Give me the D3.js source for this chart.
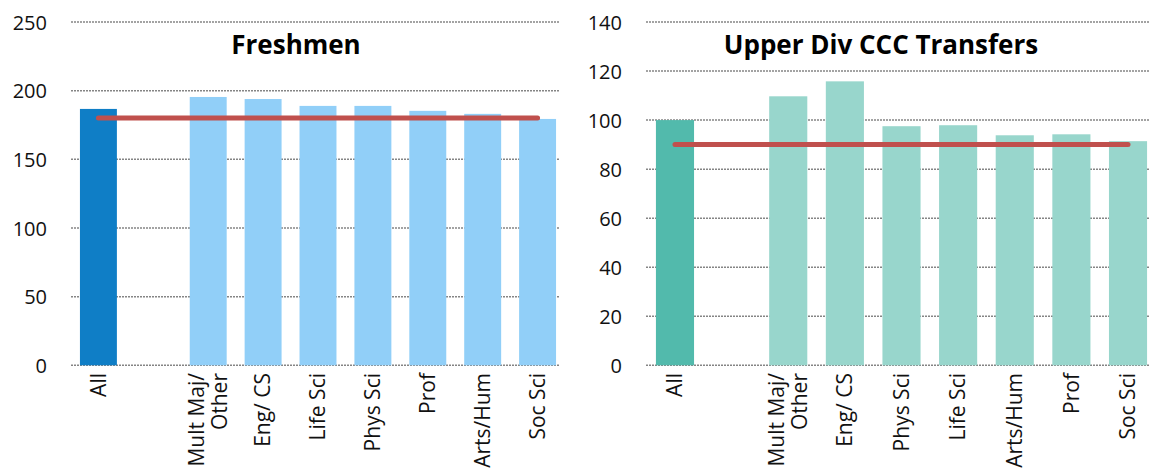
<!DOCTYPE html>
<html>
<head>
<meta charset="utf-8">
<script src="https://cdn.jsdelivr.net/npm/d3@7"></script>
<style>
  html, body { margin: 0; padding: 0; background: #fff; }
  svg { display: block; }
  .tick-label { font-family: "Open Sans", sans-serif; font-size: 20px; fill: #111; }
  .cat-label { font-family: "Open Sans", sans-serif; font-size: 21px; fill: #111; }
  .title { font-family: "Open Sans", sans-serif; font-weight: 700; font-size: 26px; fill: #000; }
</style>
</head>
<body>
<svg id="chart" width="1150" height="470"></svg>
<script>
// Freshmen panel
const freshCategories = ["All", "", "Mult Maj/\nOther", "Eng/ CS", "Life Sci", "Phys Sci", "Prof", "Arts/Hum", "Soc Sci"];
const freshValues = [186.7, null, 195.4, 193.9, 188.9, 188.9, 185.3, 183.1, 179.4];
const freshAverage = 180;
const freshTicks = [0, 50, 100, 150, 200, 250];

// Upper division CCC transfer panel
const transferCategories = ["All", "", "Mult Maj/\nOther", "Eng/ CS", "Phys Sci", "Life Sci", "Arts/Hum", "Prof", "Soc Sci"];
const transferValues = [100, null, 109.7, 115.8, 97.5, 97.9, 93.8, 94.2, 91.4];
const transferAverage = 90;
const transferTicks = [0, 20, 40, 60, 80, 100, 120, 140];

const svg = d3.select("#chart");

function drawPanel(cfg) {
  const g = svg.append("g");
  const x = d3.scaleBand()
    .domain(cfg.categories.map((c, i) => i))
    .range([cfg.x0, cfg.x1])
    .paddingInner(0.327)
    .paddingOuter(0.163);
  const y = d3.scaleLinear()
    .domain([0, d3.max(cfg.ticks)])
    .range([365.3, 22]);

  // dotted horizontal gridlines
  g.selectAll("line.grid")
    .data(cfg.ticks)
    .join("line")
    .attr("class", "grid")
    .attr("x1", cfg.gridStart)
    .attr("x2", cfg.gridEnd)
    .attr("y1", d => y(d))
    .attr("y2", d => y(d))
    .attr("stroke", "#858585")
    .attr("stroke-width", 1.5)
    .attr("stroke-dasharray", "2,1");

  // value axis labels
  const axis = d3.axisLeft(y).tickValues(cfg.ticks).tickSize(0).tickPadding(0);
  const ax = g.append("g")
    .attr("transform", `translate(${cfg.labelRight},0)`)
    .call(axis);
  ax.select(".domain").remove();
  ax.selectAll("text")
    .attr("class", "tick-label")
    .attr("dy", "0.36em")
    .attr("font-size", null)
    .attr("font-family", null)
    .attr("fill", null);

  // bars
  const data = cfg.categories.map((c, i) => ({ i, c, v: cfg.values[i] }))
    .filter(d => d.v != null);
  g.selectAll("rect.bar")
    .data(data)
    .join("rect")
    .attr("class", "bar")
    .attr("x", d => x(d.i))
    .attr("width", x.bandwidth())
    .attr("y", d => y(d.v))
    .attr("height", d => y(0) - y(d.v))
    .attr("fill", d => d.i === 0 ? cfg.mainColor : cfg.color);

  // average line across the categories
  const first = 0, last = cfg.categories.length - 1;
  g.append("line")
    .attr("x1", x(first) + x.bandwidth() / 2)
    .attr("x2", x(last) + x.bandwidth() / 2)
    .attr("y1", y(cfg.average))
    .attr("y2", y(cfg.average))
    .attr("stroke", "#C0504D")
    .attr("stroke-width", 5)
    .attr("stroke-linecap", "round");

  // rotated category labels
  cfg.categories.forEach((c, i) => {
    if (!c) return;
    const lines = c.split("\n");
    const t = g.append("text")
      .attr("class", "cat-label")
      .attr("text-anchor", "end")
      .attr("transform", `translate(${x(i) + x.bandwidth() / 2},373) rotate(-90)`);
    const lh = 1.1;
    const startDy = 0.35 - (lines.length - 1) * lh / 2;
    lines.forEach((ln, k) => {
      t.append("tspan")
        .attr("x", 0)
        .attr("dy", (k === 0 ? startDy : lh) + "em")
        .text(ln);
    });
  });

  // panel title
  g.append("text")
    .attr("class", "title")
    .attr("text-anchor", "middle")
    .attr("x", cfg.titleX)
    .attr("y", 54.3)
    .text(cfg.title);
}

drawPanel({
  categories: freshCategories,
  values: freshValues,
  average: freshAverage,
  ticks: freshTicks,
  x0: 71, x1: 565,
  gridStart: 71, gridEnd: 560,
  labelRight: 47,
  mainColor: "#0F7EC6",
  color: "#91CFF8",
  title: "Freshmen",
  titleX: 296
});

drawPanel({
  categories: transferCategories,
  values: transferValues,
  average: transferAverage,
  ticks: transferTicks,
  x0: 646.7, x1: 1156.3,
  gridStart: 646, gridEnd: 1150,
  labelRight: 622,
  mainColor: "#52BAAC",
  color: "#98D6CC",
  title: "Upper Div CCC Transfers",
  titleX: 881
});
</script>
</body>
</html>
